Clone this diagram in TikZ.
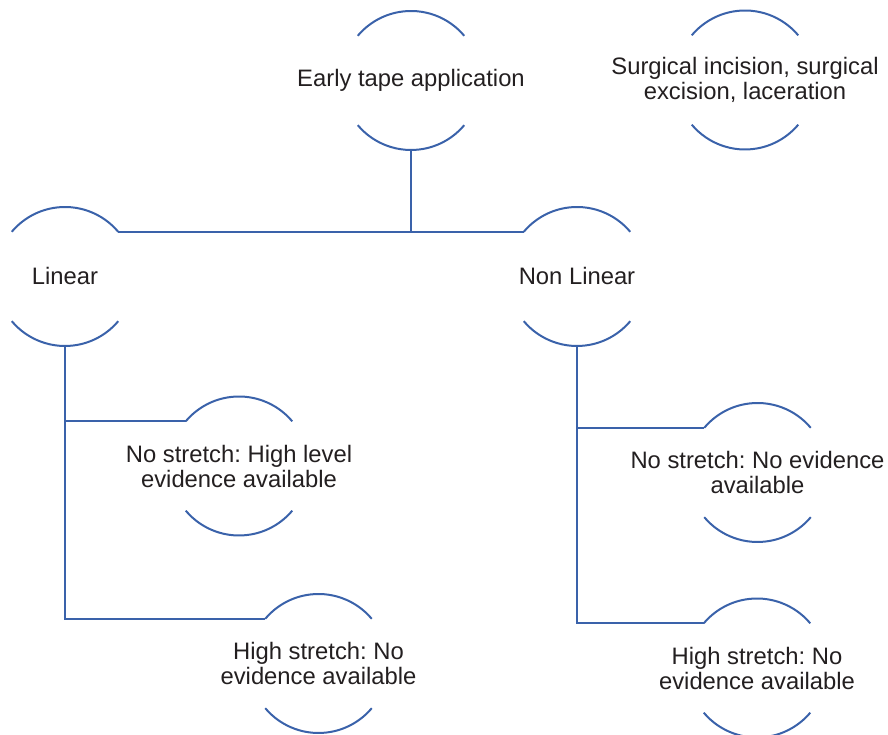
\documentclass[tikz,border=0pt]{standalone}
\usepackage{fontspec}
\setmainfont{Liberation Sans}
\frenchspacing
\definecolor{lineblue}{RGB}{58,98,170}
\definecolor{txt}{RGB}{35,31,32}
\begin{document}
\begin{tikzpicture}[x=1pt,y=1pt,
  lbl/.style={align=center,inner sep=0pt,text=txt,font=\fontsize{23.8}{25}\selectfont},
  arcst/.style={draw=lineblue,line width=2pt},
  conn/.style={draw=lineblue,line width=2pt}]
\useasboundingbox (0,0) rectangle (888,735);
\def\R{69.5}
% nodes
\node[lbl] (early) at (411,654.5) {Early tape application};
\node[lbl] (surg) at (745,655) {Surgical incision, surgical\\excision, laceration};
\node[lbl] (lin) at (65,458.5) {Linear};
\node[lbl] (nl) at (577,458.5) {Non Linear};
\node[lbl] (nsa) at (239,269) {No stretch: High level\\evidence available};
\node[lbl] (hsa) at (318.5,71.5) {High stretch: No\\evidence available};
\node[lbl] (nsb) at (757.5,262.5) {No stretch: No evidence\\available};
\node[lbl] (hsb) at (757,67) {High stretch: No\\evidence available};
% arcs and anchor coordinates
\foreach \n in {early,surg,lin,nl,nsa,hsa,nsb,hsb}{
  \draw[arcst] (\n.center) ++(40:\R) arc[start angle=40,end angle=140,radius=\R];
  \draw[arcst] (\n.center) ++(220:\R) arc[start angle=220,end angle=320,radius=\R];
  \coordinate (\n-ne) at ([shift={(40:\R)}]\n.center);
  \coordinate (\n-nw) at ([shift={(140:\R)}]\n.center);
  \coordinate (\n-s) at ([shift={(270:\R)}]\n.center);
}
% connectors
\draw[conn] (lin-ne) -- (nl-nw);
\draw[conn] (early-s) -- (early-s |- lin-ne);
\draw[conn] (lin-s) -- (lin-s |- hsa-nw) -- (hsa-nw);
\draw[conn] (lin-s |- nsa-nw) -- (nsa-nw);
\draw[conn] (nl-s) -- (nl-s |- hsb-nw) -- (hsb-nw);
\draw[conn] (nl-s |- nsb-nw) -- (nsb-nw);
\end{tikzpicture}
\end{document}
